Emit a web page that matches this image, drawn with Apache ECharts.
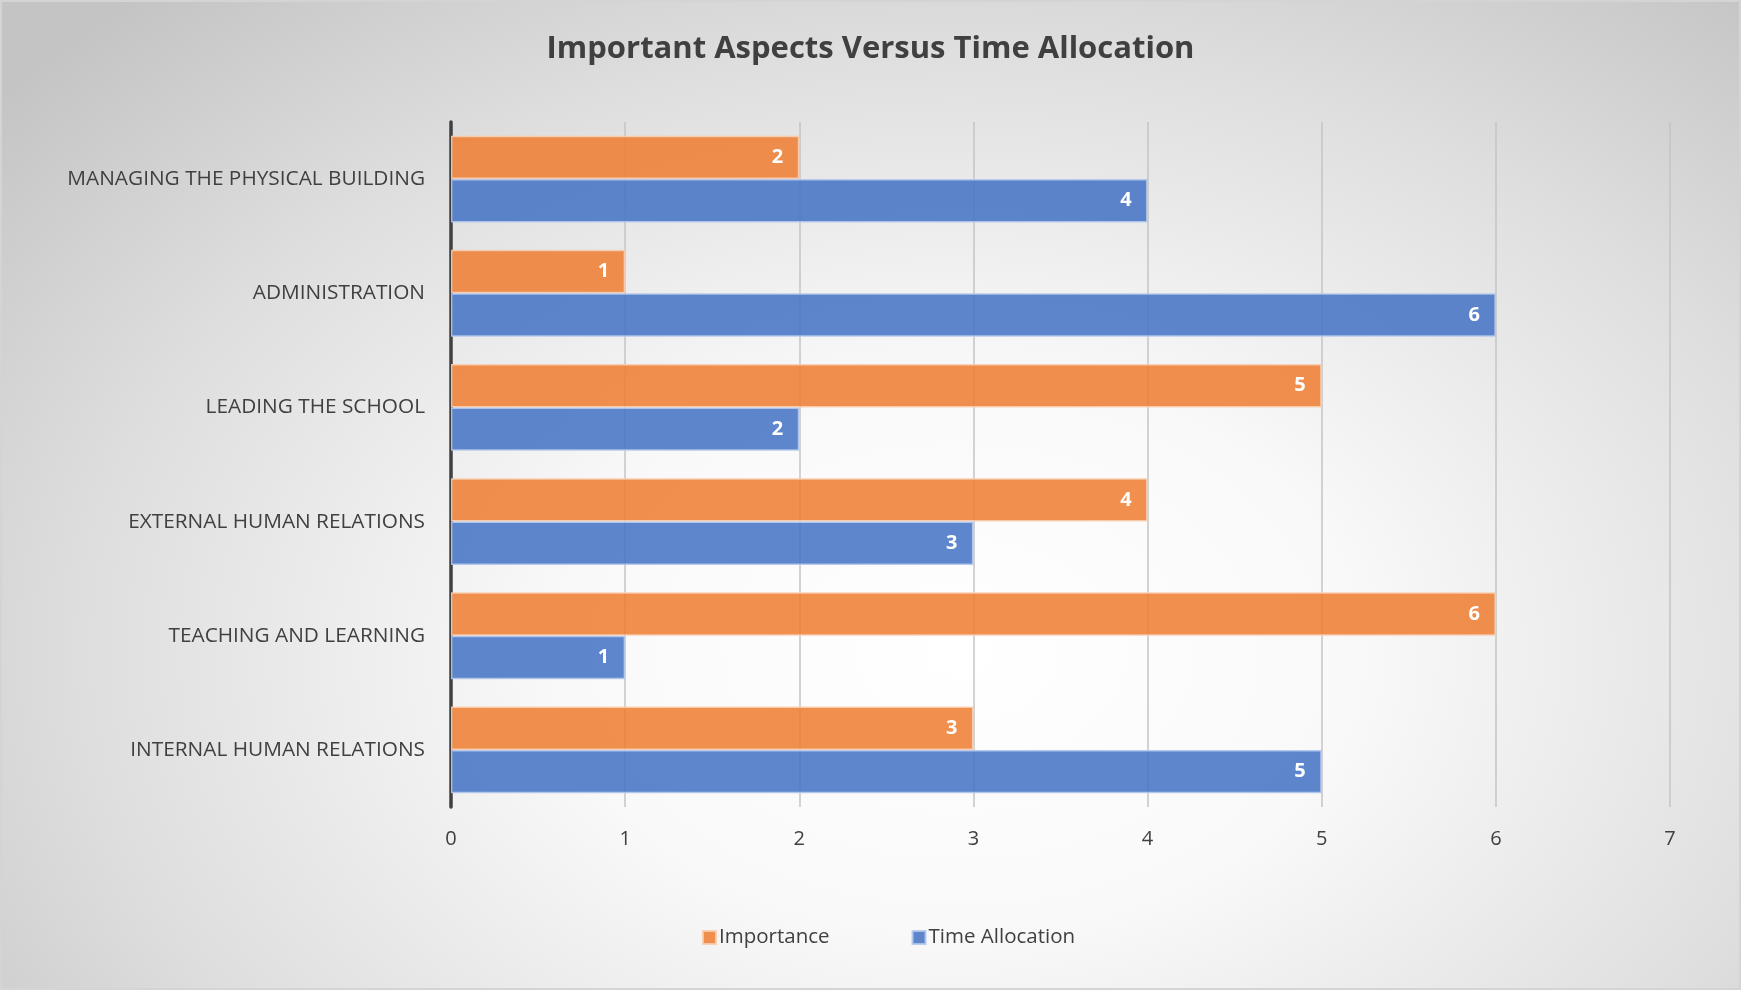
<!DOCTYPE html>
<html>
<head>
<meta charset="utf-8">
<script src="https://cdn.jsdelivr.net/npm/echarts@6/dist/echarts.min.js"></script>
<style>
  html, body { margin: 0; padding: 0; }
  #chart {
    width: 1741px; height: 990px; box-sizing: border-box;
    border: 2px solid #d4d4d4;
    background: radial-gradient(ellipse 72% 88% at 55% 66%, #ffffff 0%, #f9f9f9 32%, #dedede 70%, #c4c4c4 100%);
  }
</style>
</head>
<body>
<div id="chart"></div>
<script>
// Categories listed bottom to top (category y axis grows upward)
const categories = [
  'INTERNAL HUMAN RELATIONS',
  'TEACHING AND LEARNING',
  'EXTERNAL HUMAN RELATIONS',
  'LEADING THE SCHOOL',
  'ADMINISTRATION',
  'MANAGING THE PHYSICAL BUILDING'
];
const importance     = [3, 6, 4, 5, 1, 2];
const timeAllocation = [5, 1, 3, 2, 6, 4];
const xTicks = [0, 1, 2, 3, 4, 5, 6, 7];

const FONT = 'Open Sans';

const chart = echarts.init(document.getElementById('chart'), null, { renderer: 'canvas' });

const labelStyle = {
  show: true,
  position: 'insideRight',
  distance: 16,
  color: '#ffffff',
  fontFamily: FONT,
  fontWeight: 'bold',
  fontSize: 20
};

chart.setOption({
  backgroundColor: 'transparent',
  animation: false,
  title: {
    text: 'Important Aspects Versus Time Allocation',
    left: 'center',
    top: 27,
    textStyle: { fontFamily: FONT, fontWeight: 'bold', fontSize: 31, color: '#404040' }
  },
  legend: {
    data: ['Importance', 'Time Allocation'],
    left: 695,
    top: 920,
    itemWidth: 13,
    itemHeight: 13,
    itemGap: 82,
    icon: 'rect',
    textStyle: { fontFamily: FONT, fontSize: 20.5, color: '#404040', padding: [0, 0, 0, -2] }
  },
  grid: { left: 449, right: 69, top: 120, bottom: 181, containLabel: false },
  xAxis: {
    type: 'value',
    min: xTicks[0],
    max: xTicks[xTicks.length - 1],
    interval: 1,
    axisLine: { show: false },
    axisTick: { show: false },
    splitLine: { show: true, lineStyle: { color: '#c4c4c4', width: 1.5 } },
    axisLabel: { margin: 22, fontFamily: FONT, fontSize: 20, color: '#404040' }
  },
  yAxis: {
    type: 'category',
    data: categories,
    axisLine: { show: true, lineStyle: { color: '#404040', width: 3.5 } },
    axisTick: { show: false },
    axisLabel: { margin: 26, fontFamily: FONT, fontSize: 20.8, color: '#404040' }
  },
  series: [
    {
      name: 'Importance',
      type: 'bar',
      data: importance,
      barGap: '0%',
      barCategoryGap: '24%',
      itemStyle: { color: 'rgba(237,125,49,0.86)', borderColor: 'rgba(248,205,175,0.9)', borderWidth: 1.5 },
      label: labelStyle
    },
    {
      name: 'Time Allocation',
      type: 'bar',
      data: timeAllocation,
      barGap: '0%',
      barCategoryGap: '24%',
      itemStyle: { color: 'rgba(68,114,196,0.86)', borderColor: 'rgba(180,200,236,0.9)', borderWidth: 1.5 },
      label: labelStyle
    }
  ]
});
</script>
</body>
</html>
